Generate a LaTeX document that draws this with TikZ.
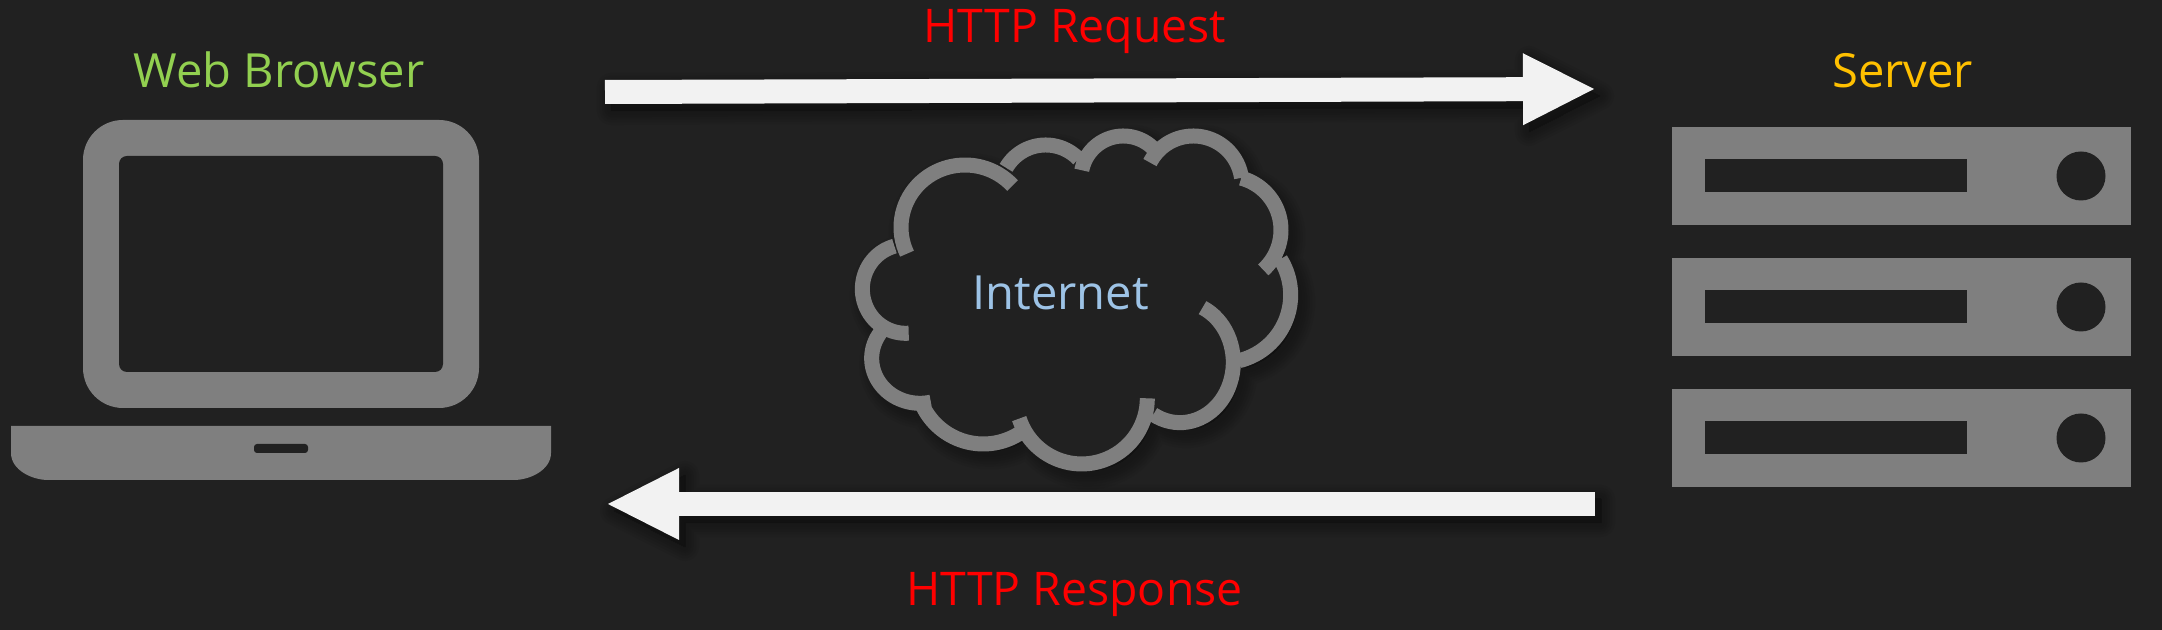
\documentclass[tikz,border=0pt]{standalone}
\usepackage{fontspec}
\setmainfont{Open Sans}
\usetikzlibrary{arrows.meta}
\definecolor{bgDark}{HTML}{212121}
\definecolor{iconGrey}{HTML}{7F7F7F}
\definecolor{arrowWhite}{HTML}{F2F2F2}
\definecolor{lblRed}{HTML}{FF0000}
\definecolor{lblGreen}{HTML}{92D050}
\definecolor{lblOrange}{HTML}{FFC000}
\definecolor{lblBlue}{HTML}{9DC3E6}
\tikzset{
  icon/.style      = {fill=iconGrey},
  hole/.style      = {fill=bgDark},
  lbl/.style       = {font=\fontsize{13.4}{16}\selectfont, anchor=base, inner sep=0pt},
  redlbl/.style    = {lbl, font=\fontsize{13.2}{16}\selectfont, lblRed},
  bigarrow/.style  = {arrowWhite, line width=2.4mm,
                      -{Triangle[length=7.1mm, width=7.2mm, line width=0pt]}},
  cloudline/.style = {iconGrey, line width=1.5mm},
  shadowlayer/.style = {fill=black, draw=black, opacity=0.04, line join=round},
}
% the cloud, one lobe after the other, in crop pixels
\newcommand{\cloudarcs}[1]{%
  plot[domain=155:318] ({375+192*cos(\x)},{352+187*sin(\x)})
  #1 plot[domain=210:316] ({617+137*cos(\x)},{242+137*sin(\x)})
  #1 plot[domain=191:318] ({850+127*cos(\x)},{205+127*sin(\x)})
  #1 plot[domain=207:352] ({1060+146*cos(\x)},{224+146*sin(\x)})
  #1 plot[domain=285:408] ({1162+161*cos(\x)},{360+161*sin(\x)})
  #1 plot[domain=-32:76] ({1149+203*cos(\x)},{555+203*sin(\x)})
  #1 plot[domain=-65:120] ({1020+160*cos(\x)},{757+181*sin(\x)})
  #1 plot[domain=0:162] ({725+197*cos(\x)},{865+197*sin(\x)})
  #1 plot[domain=58:153] ({430+202*cos(\x)},{800+202*sin(\x)})
  #1 plot[domain=77:214] ({240+145*cos(\x)},{745+135*sin(\x)})
  #1 plot[domain=86:255] ({197+130*cos(\x)},{537+133*sin(\x)})
}

\begin{document}
\begin{tikzpicture}[x=0.1mm, y=-0.1mm]

\fill[bgDark] (0,0) rectangle (2162,630);

% ---- shadows under the arrows ----------------------------------------------
\foreach \w in {8,6.5,5,3.5,2,0.5} {
  \path[shadowlayer, line width=\w pt, shift={(6,7)}]
    (605,80) -- (1523,77) -- (1523,53) -- (1594,89) -- (1523,125) -- (1523,101) -- (605,104) -- cycle;
  \path[shadowlayer, line width=\w pt, shift={(6,7)}]
    (1595,492) -- (679,492) -- (679,468) -- (608,504) -- (679,540) -- (679,516) -- (1595,516) -- cycle;
}

% ---- laptop ----------------------------------------------------------------
\fill[icon, rounded corners=4mm] (83,120) rectangle (479,408);
\fill[hole, rounded corners=0.8mm] (119,156) rectangle (443,372);
\fill[icon] (11,426) -- (551,426) -- (551,453)
  .. controls (551,470) and (530,480) .. (514,480) -- (48,480)
  .. controls (32,480) and (11,470) .. (11,453) -- cycle;
\fill[hole, rounded corners=0.3mm] (254,444) rectangle (308,453);
\node[lbl, lblGreen] (browser) at (279,88) {Web Browser};

% ---- server ----------------------------------------------------------------
\foreach \y in {127,258,389} {
  \begin{scope}[shift={(0,\y)}]
    \fill[icon] (1672,0) rectangle (2131,98);
    \fill[hole] (1705,32) rectangle (1967,65);
    \fill[hole] (2081,49) circle (2.45mm);
  \end{scope}
}
\node[lbl, lblOrange] (server) at (1902.5,88) {Server};

% ---- cloud -----------------------------------------------------------------
\begin{scope}[shift={(840,110)}, scale=1/3, samples=40]
  \foreach \w in {8,6.5,5,3.5,2,0.5} {
    \path[shadowlayer, line width=\w pt+1.5mm*0.6, shift={(18,21)}] \cloudarcs{--} -- cycle;
  }
  \fill[hole] \cloudarcs{--} -- cycle;
  \draw[cloudline] \cloudarcs{};
\end{scope}
\node[lbl, lblBlue] (internet) at (1060.5,310) {Internet};

% ---- request and response --------------------------------------------------
\coordinate (reqtail) at (605,92);
\coordinate (reqtip) at (1594,89);
\coordinate (resptail) at (1595,504);
\coordinate (resptip) at (608,504);
\draw[bigarrow] (reqtail) -- (reqtip);
\draw[bigarrow] (resptail) -- (resptip);
\node[redlbl] (request) at (1075,43) {HTTP Request};
\node[redlbl] (response) at (1074.5,606) {HTTP Response};

\end{tikzpicture}
\end{document}
